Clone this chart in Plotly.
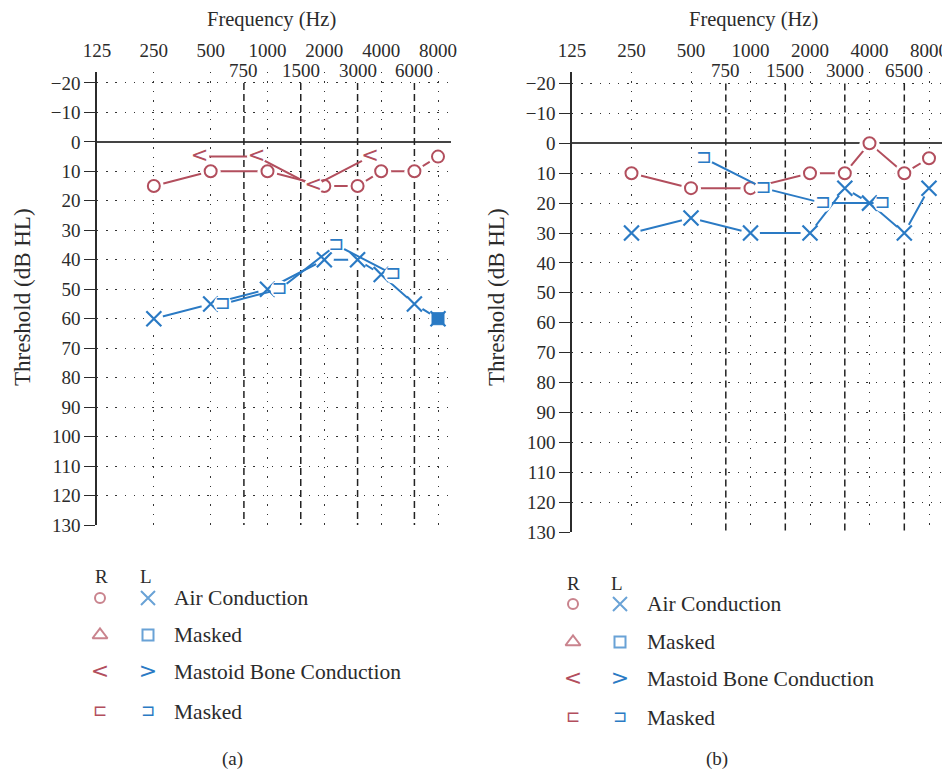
import numpy as np
import plotly.graph_objects as go

# page shows the figure offset by the default 8px body margin
OFF = 8
W, H = 950, 771
WF, HF = W - OFF, H - OFF

# ---------------- data ----------------
freq_ticks = [125, 250, 500, 1000, 2000, 4000, 8000]
freq_tick_labels = ["125", "250", "500", "1000", "2000", "4000", "8000"]
mid_freqs = [750, 1500, 3000, 6000]
mid_labels_a = ["750", "1500", "3000", "6000"]
mid_labels_b = ["750", "1500", "3000", "6500"]
db_ticks = list(range(-20, 131, 10))
db_tick_labels = [("\u2212%d" % -v) if v < 0 else str(v) for v in db_ticks]

freqs = [250, 500, 1000, 2000, 3000, 4000, 6000, 8000]
# chart (a)
a_right_air = [15, 10, 10, 15, 15, 10, 10, 5]
a_left_air = [60, 55, 50, 40, 40, 45, 55, 60]
a_bone_freqs = [500, 1000, 2000, 4000]
a_right_bone = [5, 5, 15, 5]
a_left_bone_masked = [55, 50, 35, 45]
a_left_air_masked_freqs = [8000]
a_left_air_masked = [60]
# chart (b)
b_right_air = [10, 15, 15, 10, 10, 0, 10, 5]
b_left_air = [30, 25, 30, 30, 15, 20, 30, 15]
b_bone_freqs = [500, 1000, 2000, 4000]
b_left_bone_masked = [5, 15, 20, 20]

legend_labels = ["Air Conduction", "Masked", "Mastoid Bone Conduction", "Masked"]
ear_labels = ["R", "L"]

# ---------------- style ----------------
RED = "#b24e5d"
BLUE = "#2a7ac4"
INK = "#2b2b2b"
SERIF = "Liberation Serif, Times New Roman, serif"
SYM = "DejaVu Sans"
LOG2 = np.log10(2)

fig = go.Figure()


def px_x(p):
    return (p - OFF) / WF


def px_y(p):
    return 1 - (p - OFF) / HF


panels = {
    "a": dict(x=(97, 451), y=(72, 525), oct=(438 - 97) / 6, ext=13, top=-23.7,
              xa="x", ya="y", shL=11, shR=12, mids=mid_labels_a,
              title_x=271, ytitle_x=22, cap="(a)", cap_x=232),
    "b": dict(x=(572, 943), y=(72, 532), oct=(929 - 572) / 6, ext=14, top=-23.85,
              xa="x5", ya="y5", shL=11, shR=13, mids=mid_labels_b,
              title_x=753, ytitle_x=496, cap="(b)", cap_x=717),
}

layout_axes = {}
annotations = []


def axname(a):
    return "xaxis" if a == "x" else "xaxis" + a[1:]


def yaxname(a):
    return "yaxis" if a == "y" else "yaxis" + a[1:]


shift_axes = {"a": ("x3", "x4"), "b": ("x7", "x6")}

for key, p in panels.items():
    r0 = np.log10(125)
    r1 = np.log10(8000) + p["ext"] / p["oct"] * LOG2
    xd = [px_x(p["x"][0]), px_x(p["x"][1])]
    yd = [px_y(p["y"][1]), px_y(p["y"][0])]
    layout_axes[axname(p["xa"])] = dict(
        domain=xd, type="log", range=[r0, r1], side="top", anchor=p["ya"],
        tickvals=freq_ticks, ticktext=freq_tick_labels, ticks="",
        tickfont=dict(family=SERIF, size=19, color=INK),
        ticklabelstandoff=10,
        showgrid=True, gridcolor="#333", gridwidth=1.3, griddash="1.4px,8px",
        showline=False, zeroline=False, automargin=False,
    )
    layout_axes[yaxname(p["ya"])] = dict(
        domain=yd, range=[130, p["top"]], anchor=p["xa"],
        tickvals=db_ticks, ticktext=db_tick_labels, ticks="outside",
        ticklen=11, tickwidth=1.4, tickcolor=INK,
        tickfont=dict(family=SERIF, size=19, color=INK),
        showline=True, linecolor=INK, linewidth=1.5,
        showgrid=True, gridcolor="#333", gridwidth=1.3, griddash="1.4px,7.8px",
        zeroline=True, zerolinecolor="#444", zerolinewidth=1.7, automargin=False,
    )
    dL = p["shL"] / p["oct"] * LOG2
    dR = p["shR"] / p["oct"] * LOG2
    axL, axR = shift_axes[key]
    layout_axes[axname(axL)] = dict(type="log", range=[r0 + dL, r1 + dL], overlaying=p["xa"],
                                    anchor=p["ya"], visible=False, domain=xd)
    layout_axes[axname(axR)] = dict(type="log", range=[r0 - dR, r1 - dR], overlaying=p["xa"],
                                    anchor=p["ya"], visible=False, domain=xd)
    p["axL"], p["axR"] = axL, axR

    for f in mid_freqs:
        fig.add_trace(go.Scatter(x=[f, f], y=[-20, 130], mode="lines",
                                 line=dict(color="#222", width=1.5, dash="7px,4px"),
                                 xaxis=p["xa"], yaxis=p["ya"], hoverinfo="skip",
                                 showlegend=False))
    for f, lab in zip(mid_freqs, p["mids"]):
        annotations.append(dict(x=np.log10(f), xref=p["xa"], y=px_y(70), yref="paper",
                                text=lab, showarrow=False, yanchor="middle", xanchor="center",
                                font=dict(family=SERIF, size=19, color=INK)))
    annotations.append(dict(x=px_x(p["title_x"]), y=px_y(19), xref="paper", yref="paper",
                            text="Frequency (Hz)", showarrow=False, yanchor="middle",
                            xanchor="center", font=dict(family=SERIF, size=20.5, color=INK)))
    annotations.append(dict(x=px_x(p["ytitle_x"]), y=px_y(297),
                            xref="paper", yref="paper", textangle=-90, xanchor="center",
                            yanchor="middle", text="Threshold (dB HL)", showarrow=False,
                            font=dict(family=SERIF, size=23, color=INK)))
    annotations.append(dict(x=px_x(p["cap_x"]), y=px_y(759), xref="paper", yref="paper",
                            text=p["cap"], showarrow=False, yanchor="middle", xanchor="center",
                            font=dict(family=SERIF, size=19, color=INK)))


def line_with_mask(x, y, color, xa, ya, mask):
    fig.add_trace(go.Scatter(x=x, y=y, mode="lines+markers", xaxis=xa, yaxis=ya,
                             line=dict(color=color, width=2),
                             marker=dict(color="white", size=mask, line=dict(width=0)),
                             hoverinfo="skip", showlegend=False))


def symbols(x, y, color, xa, ya, kind):
    if kind == "o":
        fig.add_trace(go.Scatter(x=x, y=y, mode="markers", xaxis=xa, yaxis=ya,
                                 marker=dict(symbol="circle-open", size=12, color=color,
                                             line=dict(color=color, width=2)),
                                 showlegend=False))
    elif kind == "x":
        fig.add_trace(go.Scatter(x=x, y=y, mode="markers", xaxis=xa, yaxis=ya,
                                 marker=dict(symbol="x-thin-open", size=15, color=color,
                                             line=dict(color=color, width=2.2)),
                                 showlegend=False))
    elif kind == "sq":
        fig.add_trace(go.Scatter(x=x, y=y, mode="markers", xaxis=xa, yaxis=ya,
                                 marker=dict(symbol="square", size=12, color=color,
                                             line=dict(color=color, width=1)),
                                 showlegend=False))
    else:
        fig.add_trace(go.Scatter(x=x, y=y, mode="text", xaxis=xa, yaxis=ya,
                                 text=[kind] * len(x), textposition="middle center",
                                 textfont=dict(family=SYM, size=21 if kind in "<>" else 19,
                                               color=color),
                                 showlegend=False))


pa, pb = panels["a"], panels["b"]
# ----- chart (a) -----
line_with_mask(freqs, a_right_air, RED, pa["xa"], pa["ya"], 20)
line_with_mask(a_bone_freqs, a_right_bone, RED, pa["axL"], pa["ya"], 19)
line_with_mask(freqs, a_left_air, BLUE, pa["xa"], pa["ya"], 19)
line_with_mask(a_bone_freqs, a_left_bone_masked, BLUE, pa["axR"], pa["ya"], 18)
symbols(freqs, a_right_air, RED, pa["xa"], pa["ya"], "o")
symbols(a_bone_freqs, a_right_bone, RED, pa["axL"], pa["ya"], "<")
symbols(a_left_air_masked_freqs, a_left_air_masked, BLUE, pa["xa"], pa["ya"], "sq")
symbols(freqs, a_left_air, BLUE, pa["xa"], pa["ya"], "x")
symbols(a_bone_freqs, a_left_bone_masked, BLUE, pa["axR"], pa["ya"], "\u2290")
# ----- chart (b) -----
line_with_mask(freqs, b_right_air, RED, pb["xa"], pb["ya"], 20)
line_with_mask(freqs, b_left_air, BLUE, pb["xa"], pb["ya"], 19)
line_with_mask(b_bone_freqs, b_left_bone_masked, BLUE, pb["axR"], pb["ya"], 18)
symbols(freqs, b_right_air, RED, pb["xa"], pb["ya"], "o")
symbols(freqs, b_left_air, BLUE, pb["xa"], pb["ya"], "x")
symbols(b_bone_freqs, b_left_bone_masked, BLUE, pb["axR"], pb["ya"], "\u2290")

# ----- key (legend) on a hidden canvas in page pixels -----
layout_axes["xaxis8"] = dict(domain=[0, 1], range=[OFF, OFF + WF], visible=False, anchor="y8",
                             fixedrange=True)
layout_axes["yaxis8"] = dict(domain=[0, 1], range=[OFF + HF, OFF], visible=False, anchor="x8",
                             fixedrange=True)

keys = [
    dict(ear_y=576, rows=[598, 635, 672, 712], rx=100, lx=148, earx=(101, 146), tx=172),
    dict(ear_y=583, rows=[604, 642, 679, 718], rx=573, lx=620, earx=(573, 617), tx=645),
]
for k in keys:
    for ex, lab in zip(k["earx"], ear_labels):
        annotations.append(dict(x=ex, y=k["ear_y"], xref="x8", yref="y8", text=lab,
                                showarrow=False, font=dict(family=SERIF, size=19, color=INK)))
    for ry, lab in zip(k["rows"], legend_labels):
        annotations.append(dict(x=k["tx"], y=ry, xref="x8", yref="y8", text=lab, xanchor="left",
                                showarrow=False, font=dict(family=SERIF, size=21.5, color=INK)))
    r = k["rows"]
    fig.add_trace(go.Scatter(x=[k["rx"], k["rx"]], y=[r[0], r[1]], mode="markers",
                             xaxis="x8", yaxis="y8", showlegend=False, hoverinfo="skip",
                             marker=dict(symbol=["circle-open", "triangle-up-open"], size=[10, 13],
                                         color=RED, line=dict(color=RED, width=2))))
    fig.add_trace(go.Scatter(x=[k["lx"], k["lx"]], y=[r[0], r[1]], mode="markers",
                             xaxis="x8", yaxis="y8", showlegend=False, hoverinfo="skip",
                             marker=dict(symbol=["x-thin-open", "square-open"], size=[14, 11],
                                         color=BLUE, line=dict(color=BLUE, width=2))))
    fig.add_trace(go.Scatter(x=[k["rx"], k["lx"]], y=[r[2], r[2]], mode="text",
                             text=["<", ">"], xaxis="x8", yaxis="y8", showlegend=False,
                             textfont=dict(family=SYM, size=22, color=[RED, BLUE])))
    fig.add_trace(go.Scatter(x=[k["rx"], k["lx"]], y=[r[3], r[3]], mode="text",
                             text=["\u228f", "\u2290"], xaxis="x8", yaxis="y8", showlegend=False,
                             textfont=dict(family=SYM, size=17, color=[RED, BLUE])))

fig.update_layout(
    width=WF, height=HF, margin=dict(l=0, r=0, t=0, b=0),
    paper_bgcolor="white", plot_bgcolor="rgba(0,0,0,0)",
    showlegend=False, annotations=annotations, **layout_axes,
)
fig.write_html("out.html")
